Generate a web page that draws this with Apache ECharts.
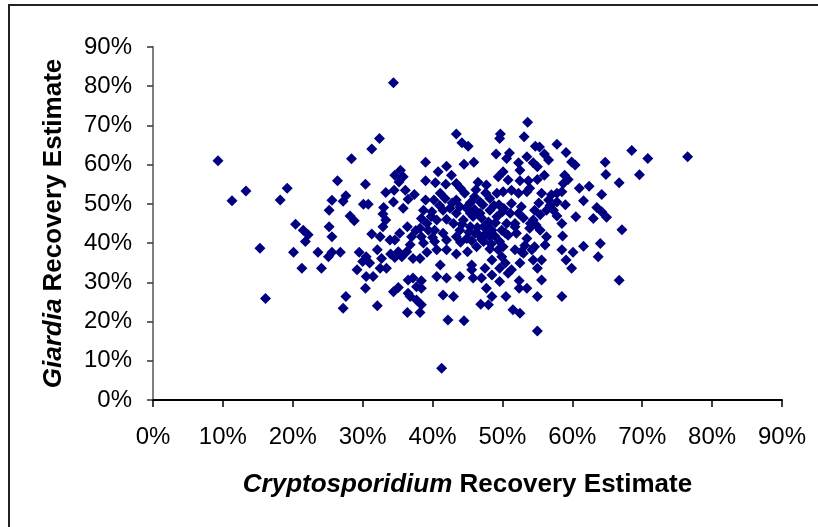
<!DOCTYPE html>
<html>
<head>
<meta charset="utf-8">
<script src="https://cdn.jsdelivr.net/npm/echarts@6/dist/echarts.min.js"></script>
<style>
  html, body { margin: 0; padding: 0; background: #fff; }
  #chart { width: 818px; height: 527px; }
</style>
</head>
<body>
<div id="chart"></div>
<script>
// Recovery estimates (%) for each sample: Cryptosporidium (x) vs Giardia (y)
const cryptoRecovery = [
  9.3, 11.3, 13.3, 34.4, 15.3, 16.1, 41.3, 53.6, 68.5, 70.8, 76.5, 69.6, 66.7, 67.1, 66.7,
  32.4, 31.3, 28.4, 19.2, 18.2, 26.4, 30.4, 25.6, 27.6, 27.2, 25.2, 30.1, 30.8, 28.2, 28.8,
  20.4, 21.5, 22.2, 21.8, 25.2, 25.6, 31.3, 39.0, 40.8, 42.0, 34.6, 35.4, 35.8, 35.2, 39.0,
  40.4, 41.9, 33.3, 34.5, 36.1, 37.4, 36.5, 34.4, 35.8, 33.0, 32.9, 33.3, 32.9, 39.0, 41.1,
  40.2, 41.8, 38.7, 39.9, 41.5, 38.4, 39.2, 40.6, 42.0, 38.2, 39.4, 40.3, 41.5, 36.4, 37.0,
  35.3, 32.5, 33.9, 34.6, 38.4, 38.7, 40.3, 42.0,
  43.4, 44.2, 45.1, 49.7, 49.6, 53.1, 54.7, 55.3, 57.8, 59.1, 49.1, 51.0, 50.6, 53.5, 56.0,
  56.6, 59.9, 60.4, 64.7, 44.5, 45.9, 52.3, 54.4, 55.0, 52.5, 64.8, 42.7, 43.4, 46.5, 47.7,
  49.4, 50.1, 50.8, 52.5, 53.7, 55.0, 56.0, 58.9, 59.4, 58.7, 61.0, 62.4, 64.2, 61.6, 63.5,
  64.2, 64.9, 63.0, 60.5, 58.5, 58.6, 44.6, 43.4, 42.5, 43.9, 45.4, 46.8, 48.2, 49.2, 50.1,
  51.3, 52.3, 53.5, 53.9, 55.6, 57.0, 57.8, 58.5, 56.6, 57.8, 57.3, 57.8, 56.3, 55.4, 54.6,
  54.4, 53.9, 55.4, 56.3, 53.5, 52.0, 51.8, 52.3, 52.7, 51.3, 51.1, 50.6, 49.9, 49.6, 48.2,
  47.3, 46.8, 48.2, 49.2, 45.4, 44.4, 43.4, 43.0, 43.9, 45.4, 46.1, 44.9, 43.4, 47.3, 48.5,
  20.1, 23.6, 25.1, 25.6, 26.8, 21.3, 24.1, 29.5, 30.5, 30.0, 31.0, 32.1, 32.7, 32.5, 33.4,
  29.2, 30.5, 31.5, 34.6, 35.6, 36.3, 37.2, 38.2, 39.2, 40.6, 42.0, 41.1, 40.6, 42.0, 30.4,
  27.6, 27.2, 32.1, 34.4, 35.1, 36.5, 37.2, 38.4, 37.7, 38.4, 36.5, 36.8, 37.7, 38.4, 36.4,
  38.2, 41.5, 42.2, 35.1,
  43.4, 45.0, 46.3, 48.2, 49.4, 50.1, 51.8, 52.7, 54.2, 54.6, 56.1, 58.5, 60.1, 61.6, 63.7,
  64.0, 48.5, 49.9, 50.4, 45.6, 45.6, 47.5, 49.6, 51.3, 52.5, 53.0, 54.4, 55.6, 55.0, 59.1,
  59.9, 43.9, 45.8, 47.0, 48.5, 49.6, 50.8, 55.6, 47.7, 48.5, 46.9, 48.0, 43.0, 50.5, 52.4,
  53.5, 55.0, 58.5, 51.5, 52.5, 44.5, 55.0,
  // tightly packed samples in the core of the cloud
  44.8, 46.0, 47.2, 48.8, 50.2, 45.8, 47.0, 48.0, 44.2, 46.4, 47.8, 49.0, 45.2, 46.6, 47.6,
  48.9, 50.4, 44.0, 45.6, 47.0, 48.4, 46.0, 42.8, 41.0, 51.8, 53.0, 54.0, 55.2, 56.8, 53.2,
  50.0, 46.2, 44.0, 47.6, 49.5, 37.6, 36.8, 39.8, 40.0, 34.0, 50.8, 54.8, 52.4, 59.0
];
const giardiaRecovery = [
  61.0, 50.8, 53.3, 80.9, 38.7, 25.9, 8.1, 70.8, 63.6, 61.6, 62.0, 57.4, 55.4, 43.4, 30.5,
  66.7, 64.0, 61.5, 54.0, 51.0, 55.9, 55.0, 50.9, 52.1, 50.7, 48.4, 49.9, 49.9, 46.9, 45.7,
  44.8, 43.3, 42.1, 40.4, 44.2, 41.6, 42.3, 60.6, 58.2, 59.6, 57.3, 58.6, 56.9, 55.6, 55.9,
  55.4, 55.0, 52.9, 53.5, 53.5, 52.4, 51.2, 50.5, 48.9, 49.1, 47.4, 45.9, 44.2, 51.0, 52.7,
  51.0, 51.4, 48.4, 48.0, 48.4, 46.3, 45.0, 45.9, 46.1, 43.8, 43.3, 43.3, 42.5, 44.2, 41.6,
  42.5, 41.6, 40.8, 40.8, 41.6, 40.0, 40.4, 40.8,
  67.8, 65.6, 64.7, 67.8, 66.7, 67.1, 64.7, 64.5, 65.2, 63.1, 62.7, 63.0, 61.6, 62.0, 62.7,
  61.2, 60.7, 59.9, 60.6, 60.1, 60.6, 60.5, 60.5, 59.5, 58.6, 57.5, 57.3, 55.2, 55.5, 54.8,
  56.9, 58.2, 56.1, 55.9, 55.9, 56.2, 57.3, 57.3, 56.2, 55.2, 54.0, 54.5, 52.4, 50.8, 49.1,
  48.0, 46.6, 46.3, 46.7, 45.0, 41.8, 52.7, 51.0, 48.9, 49.3, 50.3, 50.5, 51.4, 52.7, 53.1,
  53.5, 52.7, 53.1, 54.0, 52.7, 52.3, 52.7, 53.1, 51.0, 50.5, 48.4, 46.9, 48.4, 47.2, 48.4,
  45.9, 43.8, 43.3, 41.6, 41.2, 42.5, 45.0, 47.6, 49.3, 50.1, 47.6, 45.0, 43.3, 40.4, 41.6,
  44.2, 47.6, 48.4, 46.7, 47.6, 45.9, 47.6, 45.0, 43.3, 44.2, 42.5, 41.2, 41.6, 40.4, 43.3,
  37.7, 37.7, 36.5, 37.7, 37.7, 33.6, 33.6, 37.7, 36.5, 35.3, 34.9, 38.3, 36.1, 33.6, 33.6,
  33.2, 31.5, 31.5, 36.3, 36.5, 37.8, 36.1, 36.1, 37.7, 38.3, 38.3, 34.4, 31.5, 31.1, 28.5,
  26.4, 23.4, 24.0, 27.6, 28.7, 30.6, 31.1, 30.4, 28.9, 28.5, 27.2, 26.4, 25.5, 24.3, 22.3,
  22.3, 26.8, 20.4, 37.8,
  37.2, 37.8, 39.1, 38.5, 38.3, 39.1, 38.3, 37.8, 38.3, 39.1, 39.5, 38.3, 37.7, 39.2, 36.5,
  39.9, 35.7, 36.5, 34.9, 34.4, 33.2, 33.6, 33.6, 33.2, 34.9, 37.4, 35.7, 35.7, 33.6, 35.7,
  33.6, 31.5, 31.1, 31.1, 31.9, 30.2, 32.3, 30.6, 28.5, 26.4, 24.4, 24.3, 26.4, 26.4, 28.5,
  28.5, 26.4, 26.4, 23.0, 22.1, 20.2, 17.6,
  49.0, 48.6, 49.8, 49.6, 48.8, 46.8, 46.4, 45.4, 44.8, 44.0, 44.6, 45.2, 42.8, 42.2, 42.4,
  41.8, 42.6, 40.2, 40.6, 41.0, 39.8, 51.8, 50.2, 49.6, 44.2, 46.4, 45.0, 50.2, 49.6, 39.4,
  48.0, 53.6, 54.0, 52.8, 49.8, 43.2, 39.6, 46.8, 41.4, 37.2, 42.0, 44.6, 30.4, 49.8
];
const tickValues = [0, 10, 20, 30, 40, 50, 60, 70, 80, 90];

const points = cryptoRecovery.map((x, i) => [x, giardiaRecovery[i]]);

const chart = echarts.init(document.getElementById('chart'), null, { renderer: 'canvas' });

const labelFont = 'Arial, "Liberation Sans", sans-serif';

chart.setOption({
  animation: false,
  backgroundColor: '#ffffff',
  grid: { left: 153, right: 36, top: 47, bottom: 127, containLabel: false },
  graphic: [{
    type: 'rect',
    shape: { x: 9, y: 5, width: 900, height: 700 },
    style: { fill: 'none', stroke: '#222', lineWidth: 2 },
    silent: true
  }],
  xAxis: {
    type: 'value',
    min: tickValues[0],
    max: tickValues[tickValues.length - 1],
    interval: 10,
    name: '{i|Cryptosporidium} Recovery Estimate',
    nameLocation: 'middle',
    nameGap: 72,
    nameTextStyle: {
      fontFamily: labelFont, fontSize: 26, fontWeight: 'bold', color: '#000',
      rich: { i: { fontFamily: labelFont, fontSize: 26, fontWeight: 'bold', fontStyle: 'italic', color: '#000' } }
    },
    axisLine: { show: true, onZero: false, lineStyle: { color: '#000', width: 2 } },
    axisTick: { show: true, length: 7, lineStyle: { color: '#000', width: 1.5 } },
    axisLabel: { formatter: '{value}%', fontFamily: labelFont, fontSize: 24, color: '#000', margin: 25 },
    splitLine: { show: false }
  },
  yAxis: {
    type: 'value',
    min: tickValues[0],
    max: tickValues[tickValues.length - 1],
    interval: 10,
    name: '{i|Giardia} Recovery Estimate',
    nameLocation: 'middle',
    nameGap: 86,
    nameTextStyle: {
      fontFamily: labelFont, fontSize: 26, fontWeight: 'bold', color: '#000',
      rich: { i: { fontFamily: labelFont, fontSize: 26, fontWeight: 'bold', fontStyle: 'italic', color: '#000' } }
    },
    axisLine: { show: true, onZero: false, lineStyle: { color: '#808080', width: 2 } },
    axisTick: { show: true, length: 6, lineStyle: { color: '#333', width: 1.5 } },
    axisLabel: { formatter: '{value}%', fontFamily: labelFont, fontSize: 24, color: '#000', margin: 21 },
    splitLine: { show: false }
  },
  series: [{
    type: 'scatter',
    data: points,
    symbol: 'diamond',
    symbolSize: 11,
    itemStyle: { color: '#000080', opacity: 1 }
  }]
});
</script>
</body>
</html>
